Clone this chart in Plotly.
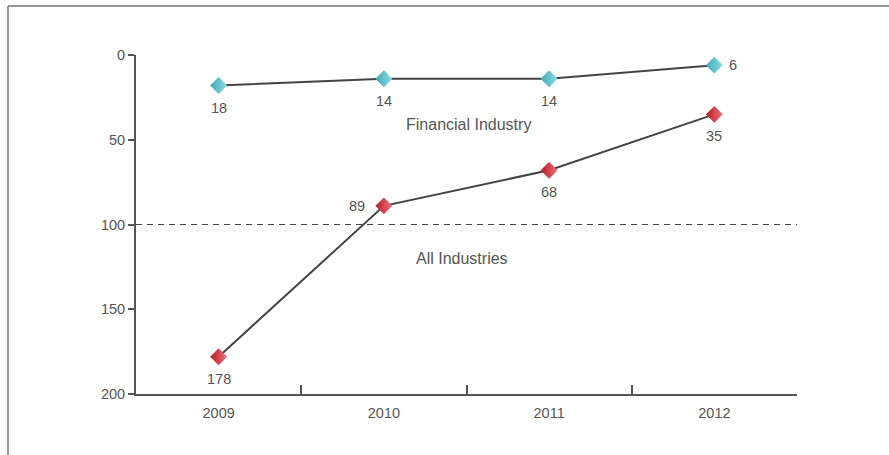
import plotly.graph_objects as go

# Ranking data (lower is better, so the y axis is reversed)
years = ["2009", "2010", "2011", "2012"]
financial_rank = [18, 14, 14, 6]
all_rank = [178, 89, 68, 35]
financial_label_side = ["below", "below", "below", "right"]
all_label_side = ["below", "left", "below", "below"]
y_ticks = [0, 50, 100, 150, 200]

FONT = "Liberation Sans, Arial, sans-serif"
TEXT_GREY = "#555555"
LINE_GREY = "#444444"
AXIS_GREY = "#555555"
NUM_SIZE = 14.5

x_pos = list(range(len(years)))

fig = go.Figure()

series = [
    (financial_rank, financial_label_side, "#44a8b3", "#86dde8", "Financial Industry"),
    (all_rank, all_label_side, "#b31f2a", "#f36d75", "All Industries"),
]

for values, sides, c_dark, c_light, name in series:
    fig.add_trace(go.Scatter(
        x=x_pos, y=values, mode="lines+markers",
        line=dict(color=LINE_GREY, width=2),
        marker=dict(symbol="diamond", size=13, color=c_dark,
                    gradient=dict(type="horizontal", color=c_light),
                    line=dict(width=0)),
        cliponaxis=False, showlegend=False, name=name,
    ))
    # value labels next to each marker
    for xi, v, side in zip(x_pos, values, sides):
        shift = {"below": (0, -22), "right": (19, 0), "left": (-27, 0)}[side]
        fig.add_annotation(x=xi, y=v, text=str(v), showarrow=False,
                           xshift=shift[0], yshift=shift[1],
                           font=dict(family=FONT, size=NUM_SIZE, color=TEXT_GREY))

# Reference line at rank 100
fig.add_shape(type="line", xref="x", yref="y", x0=-0.5, x1=3.5, y0=100, y1=100,
              line=dict(color=LINE_GREY, width=1, dash="6px,5px"), layer="below")

# Outer frame (top and left edges)
fig.add_shape(type="line", xref="paper", yref="paper",
              x0=(8 - 136) / 661, x1=(900 - 136) / 661,
              y0=(394 - 6) / 339, y1=(394 - 6) / 339,
              line=dict(color="#777777", width=1.5))
fig.add_shape(type="line", xref="paper", yref="paper",
              x0=(8 - 136) / 661, x1=(8 - 136) / 661,
              y0=(394 - 6) / 339, y1=(394 - 470) / 339,
              line=dict(color="#777777", width=1.5))

fig.add_annotation(x=1.51, y=41, text="Financial Industry", showarrow=False,
                   font=dict(family=FONT, size=16, color=TEXT_GREY))
fig.add_annotation(x=1.47, y=120, text="All Industries", showarrow=False,
                   font=dict(family=FONT, size=16, color=TEXT_GREY))

fig.update_layout(
    width=889, height=455,
    margin=dict(l=136, r=92, t=55, b=61),
    paper_bgcolor="white", plot_bgcolor="white",
    font=dict(family=FONT, size=NUM_SIZE, color=TEXT_GREY),
    xaxis=dict(
        range=[-0.5, 3.5], tickmode="array", tickvals=x_pos, ticktext=years,
        ticks="", showgrid=False, zeroline=False,
        showline=True, linecolor=AXIS_GREY, linewidth=2,
        ticklabelstandoff=5,
        tickfont=dict(family=FONT, size=NUM_SIZE, color=TEXT_GREY),
        minor=dict(tickvals=[0.5, 1.5, 2.5], ticks="inside", ticklen=9,
                   tickcolor=AXIS_GREY, tickwidth=1.5, showgrid=False),
    ),
    yaxis=dict(
        range=[200, 0], tickmode="array", tickvals=y_ticks,
        ticks="outside", ticklen=6, tickcolor=AXIS_GREY, tickwidth=1.5,
        showgrid=False, zeroline=False,
        showline=True, linecolor=AXIS_GREY, linewidth=2,
        tickfont=dict(family=FONT, size=NUM_SIZE, color=TEXT_GREY),
    ),
)

fig.write_html("out.html")
